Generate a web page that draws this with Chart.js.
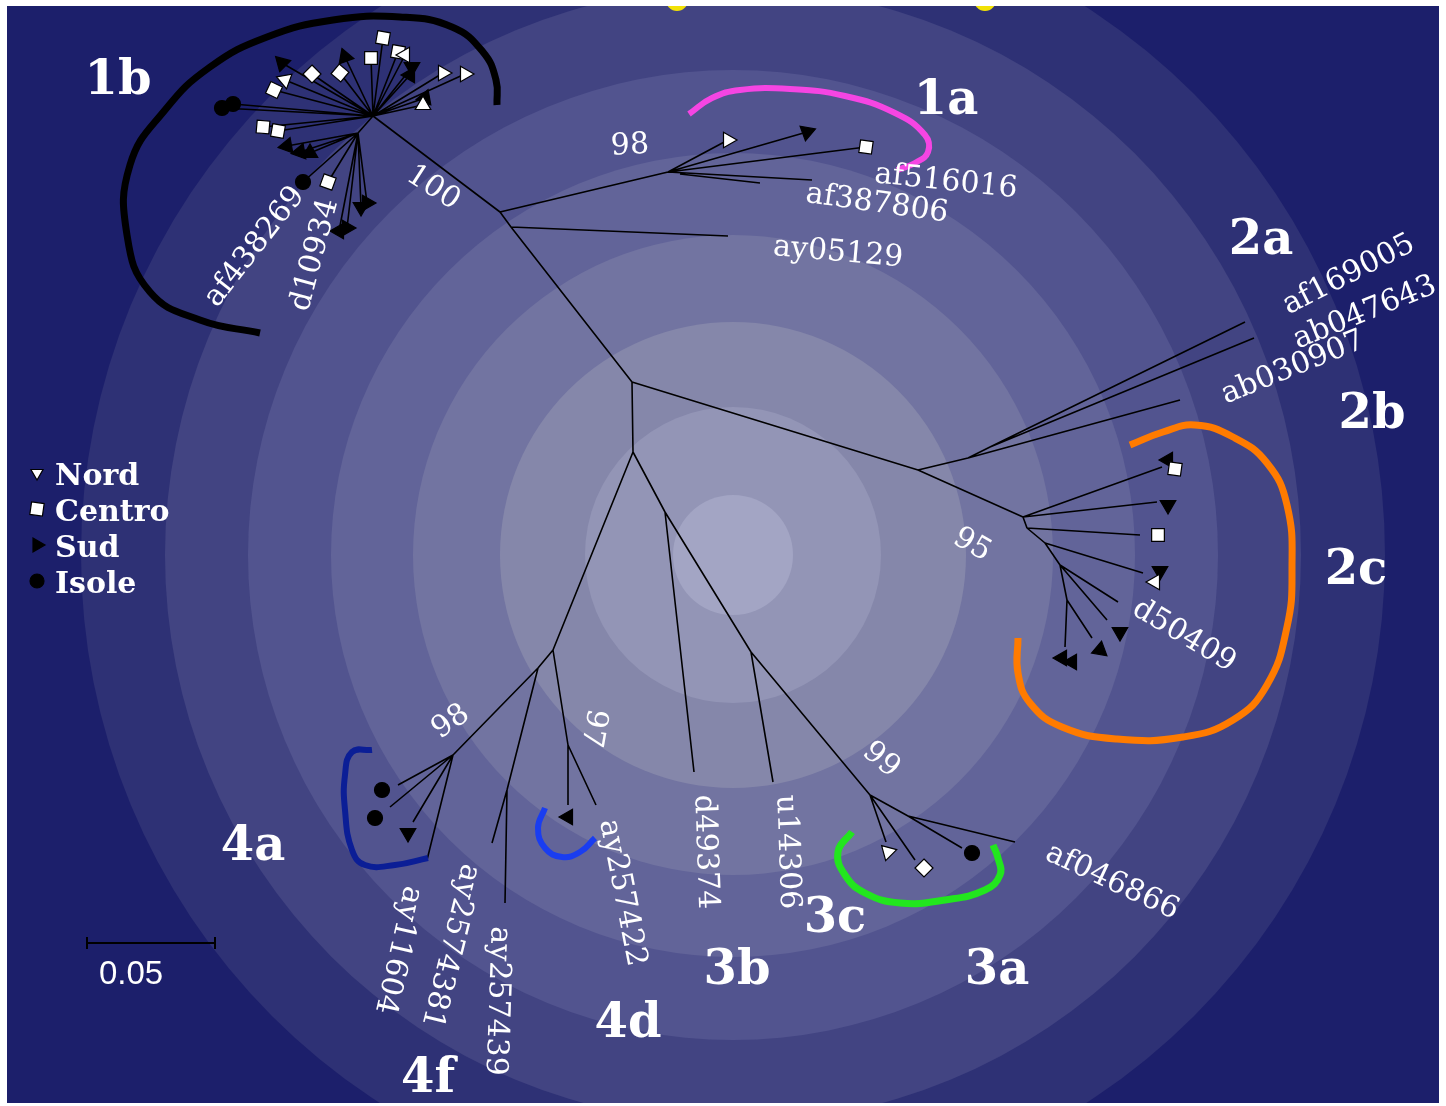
<!DOCTYPE html>
<html>
<head>
<meta charset="utf-8">
<title>HCV genotypes – unrooted tree</title>
<script src="https://cdn.jsdelivr.net/npm/chart.js@4.4.1/dist/chart.umd.min.js"></script>
<style>
  html, body { margin: 0; padding: 0; background: #ffffff; }
  canvas { display: block; }
</style>
</head>
<body>
<canvas id="tree" width="1446" height="1106"></canvas>
<script>
// Unrooted tree layout. Coordinates are layout units (1 unit = 1/2560 substitutions per site),
// origin at the central node, y pointing up.
const UNITS_PER_SUBST = 2560;
const SCALE_BAR_SUBST = 0.05;

// Branch segments: [x1, y1, x2, y2]
const branches = [
  // backbone towards genotype 1
  [0, 0, -121, 155], [-121, 155, -132, 170], [-121, 155, 96, 146],
  [-132, 170, -259, 266], [-132, 170, 36, 210],
  // 1a
  [36, 210, 96, 242], [36, 210, 175, 250], [36, 210, 234, 235], [36, 210, 180, 202], [48, 208, 128, 199],
  // 1b star
  [-259, 266, -274, 249],
  [-259, 266, -249, 344], [-259, 266, -287, 325], [-259, 266, -261, 324], [-259, 266, -234, 330],
  [-259, 266, -227, 327], [-259, 266, -220, 315], [-259, 266, -222, 307], [-259, 266, -320, 308],
  [-259, 266, -292, 309], [-259, 266, -350, 319], [-259, 266, -347, 302], [-259, 266, -358, 292],
  [-259, 266, -189, 309], [-259, 266, -167, 308], [-259, 266, -207, 284], [-259, 266, -209, 277],
  [-259, 266, -410, 274], [-259, 266, -399, 278], [-259, 266, -369, 255], [-259, 266, -354, 251],
  [-274, 249, -345, 236], [-274, 249, -332, 230], [-274, 249, -322, 229], [-274, 249, -329, 200],
  [-274, 249, -304, 200], [-274, 249, -265, 179], [-274, 249, -271, 175], [-274, 249, -285, 154],
  [-274, 249, -293, 151],
  // genotype 2
  [0, 0, 286, -88], [286, -88, 336, -76], [336, -76, 548, -18], [336, -76, 358, -65],
  [358, -65, 613, 60], [358, -65, 622, 44],
  [286, -88, 391, -135], [391, -135, 530, -85], [391, -135, 525, -120], [391, -135, 395, -146],
  [395, -146, 508, -153], [395, -146, 413, -161], [413, -161, 511, -191], [413, -161, 428, -183],
  [428, -183, 486, -220], [428, -183, 475, -238], [428, -183, 435, -218],
  [435, -218, 460, -256], [435, -218, 433, -265],
  // genotype 3
  [0, 0, 1, -70], [1, -70, 33, -130], [33, -130, 62, -390], [33, -130, 119, -270],
  [119, -270, 141, -400], [119, -270, 238, -413],
  [238, -413, 254, -460], [238, -413, 283, -478], [238, -413, 276, -434],
  [276, -434, 330, -466], [276, -434, 383, -460],
  // genotype 4
  [1, -70, -79, -268], [-79, -268, -94, -286], [-79, -268, -64, -363],
  [-64, -363, -64, -423], [-64, -363, -36, -423],
  [-94, -286, -179, -373], [-179, -373, -234, -403], [-179, -373, -242, -425],
  [-179, -373, -219, -440], [-179, -373, -205, -478],
  [-94, -286, -125, -408], [-125, -408, -140, -461], [-125, -408, -127, -521]
];

// Isolates by region of origin: [x, y, marker rotation in degrees]
const nordTips = [
  [96, 242, 90],
  [-227, 327, 150], [-347, 302, -70], [-189, 309, 90], [-167, 308, 90], [-209, 277, 0],
  [523, -200, -90],
  [256, -470, 75]
];
const centroTips = [
  [234, 235, 8],
  [-249, 344, 10], [-261, 324, 0], [-234, 330, 10], [-320, 308, 45], [-292, 309, 40],
  [-358, 292, 25], [-369, 255, 5], [-354, 251, 10], [-304, 200, 20],
  [543, -87, 8], [526, -153, 0],
  [292, -486, 45]
];
const sudTips = [
  [175, 250, 190],
  [-287, 325, -20], [-220, 315, 180], [-222, 307, 150], [-350, 319, -45], [-207, 284, 20],
  [-345, 236, -100], [-332, 230, -100], [-322, 229, 120], [-265, 179, 90], [-271, 175, 180],
  [-285, 154, 90], [-293, 151, 150],
  [536, -78, 30], [536, -123, 180], [528, -189, 180], [488, -250, 60], [468, -268, 10],
  [430, -276, -90], [440, -280, -90],
  [-224, -451, 180],
  [-64, -435, -90]
];
const isoleTips = [
  [-410, 274], [-399, 278], [-329, 200],
  [340, -471],
  [-250, -408], [-257, -436]
];

// Reference sequences: [accession, x, y, rotation]
const tipLabels = [
  ['af516016', 314, 200, 6], ['af387806', 245, 178, 8], ['ay05129', 206, 129, 5],
  ['af169005', 717, 107, -27], ['ab047643', 733, 69, -22], ['ab030907', 661, 14, -22],
  ['d50409', 552, -254, 31], ['af046866', 480, -500, 25],
  ['u14306', 155, -470, 88], ['d49374', 73, -470, 88],
  ['ay257422', -10, -511, 79], ['ay257439', -135, -619, 92],
  ['ay2574381', -182, -564, 104], ['ay11604', -234, -568, 103],
  ['af438269', -377, 135, -52], ['d10934', -317, 127, -75]
];

// Bootstrap support: [value, x, y, rotation]
const bootstrapLabels = [
  ['98', -2, 236, -3], ['100', -199, 194, 33], ['95', 340, -163, 30],
  ['99', 249, -378, 40], ['98', -181, -340, -35], ['97', -39, -346, 100]
];

// Subtype names: [name, x, y]
const subtypeLabels = [
  ['1b', -514, 300], ['1a', 314, 280], ['2a', 629, 140], ['2b', 740, -34], ['2c', 724, -190],
  ['3c', 203, -538], ['3b', 105, -590], ['3a', 365, -590],
  ['4a', -379, -466], ['4d', -4, -643], ['4f', -204, -698]
];

// Subtype brackets: control points of each curve
const bracket1b = [[-372, 49], [-432, 62], [-482, 90], [-505, 147], [-502, 217], [-467, 272], [-422, 315],
  [-365, 345], [-299, 362], [-232, 365], [-180, 355], [-149, 330], [-136, 302], [-135, 277]];
const bracket1a = [[57, 268], [80, 284], [108, 292], [158, 293], [213, 286], [263, 269], [293, 247],
  [296, 230], [283, 219], [265, 212]];
const bracket2c = [[498, -63], [531, -50], [563, -43], [601, -55], [635, -81], [655, -123], [660, -188],
  [655, -245], [635, -303], [601, -338], [551, -355], [485, -357], [430, -345], [398, -321], [386, -291], [386, -256]];
const bracket3c = [[220, -450], [206, -470], [213, -493], [233, -511], [268, -521], [313, -518],
  [353, -508], [368, -493], [366, -476], [361, -463]];
const bracket4a = [[-260, -368], [-280, -370], [-287, -393], [-287, -428], [-280, -468], [-267, -483],
  [-237, -483], [-204, -476]];
const bracket4d = [[-87, -426], [-94, -446], [-87, -466], [-70, -475], [-52, -470], [-37, -456]];

// Backdrop: concentric bands around a centre, radii in layout units (outer to inner)
const ringCentre = [101, -173];
const ringRadii = [652, 568, 485, 402, 320, 233, 148, 60];
const ringColours = ['#2e3175', '#424482', '#52548f', '#626499', '#7274a1', '#8587aa', '#9395b6', '#a3a5c4'];
const outerColour = '#1c1f6b';
const sunSpots = [[45, 382], [353, 382]];

const legendItems = [
  { text: 'Nord', style: 'triangle', rot: 180, fill: '#ffffff', r: 7 },
  { text: 'Centro', style: 'rect', rot: 8, fill: '#ffffff', r: 9 },
  { text: 'Sud', style: 'triangle', rot: 90, fill: '#000000', r: 8 },
  { text: 'Isole', style: 'circle', rot: 0, fill: '#000000', r: 7 }
];

// ---------- datasets ----------
const branchData = [];
branches.forEach(([x1, y1, x2, y2]) => {
  branchData.push({ x: x1, y: y1 }, { x: x2, y: y2 }, { x: x2, y: null });
});
const toPts = arr => arr.map(p => ({ x: p[0], y: p[1], r: p[2] || 0 }));

function bracketSet(points, colour, width) {
  return {
    data: toPts(points), showLine: true, borderColor: colour, borderWidth: width,
    tension: 0.45, pointRadius: 0, borderCapStyle: 'butt', borderJoinStyle: 'round',
    fill: false, order: 1
  };
}
function markerSet(label, points, style, fill, radius) {
  return {
    label, data: toPts(points), showLine: false, pointStyle: style,
    pointRadius: radius, pointHoverRadius: radius,
    pointBackgroundColor: fill, pointBorderColor: '#000000', pointBorderWidth: 1.2,
    pointRotation: c => (c.raw ? c.raw.r : 0), order: 0
  };
}

const backdrop = {
  id: 'backdrop',
  beforeDraw(chart) {
    const { ctx } = chart;
    const sx = chart.scales.x, sy = chart.scales.y;
    const k = sx.getPixelForValue(1) - sx.getPixelForValue(0);
    ctx.save();
    ctx.fillStyle = '#ffffff';
    ctx.fillRect(0, 0, chart.width, chart.height);
    ctx.beginPath();
    ctx.rect(7, 6, 1432, 1097);
    ctx.clip();
    ctx.fillStyle = outerColour;
    ctx.fillRect(7, 6, 1432, 1097);
    const cx = sx.getPixelForValue(ringCentre[0]), cy = sy.getPixelForValue(ringCentre[1]);
    ringRadii.forEach((r, i) => {
      ctx.beginPath();
      ctx.arc(cx, cy, r * k, 0, Math.PI * 2);
      ctx.fillStyle = ringColours[i];
      ctx.fill();
    });
    ctx.fillStyle = '#f2e205';
    sunSpots.forEach(([x, y]) => {
      ctx.beginPath();
      ctx.arc(sx.getPixelForValue(x), sy.getPixelForValue(y), 11 * k, 0, Math.PI * 2);
      ctx.fill();
    });
    ctx.restore();
  }
};

function drawText(ctx, text, x, y, rot, font) {
  ctx.save();
  ctx.translate(x, y);
  ctx.rotate(rot * Math.PI / 180);
  ctx.font = font;
  ctx.textAlign = 'center';
  ctx.textBaseline = 'middle';
  ctx.fillText(text, 0, 0);
  ctx.restore();
}

const annotations = {
  id: 'annotations',
  afterDatasetsDraw(chart) {
    const { ctx } = chart;
    const sx = chart.scales.x, sy = chart.scales.y;
    ctx.save();
    ctx.fillStyle = '#ffffff';
    tipLabels.forEach(([t, x, y, r]) =>
      drawText(ctx, t, sx.getPixelForValue(x), sy.getPixelForValue(y), r, '30px "DejaVu Serif"'));
    bootstrapLabels.forEach(([t, x, y, r]) =>
      drawText(ctx, t, sx.getPixelForValue(x), sy.getPixelForValue(y), r, '30px "DejaVu Serif"'));
    subtypeLabels.forEach(([t, x, y]) =>
      drawText(ctx, t, sx.getPixelForValue(x), sy.getPixelForValue(y), 0, 'bold 48px "DejaVu Serif"'));

    // legend
    const lx = 37, ly0 = 473, step = 36;
    legendItems.forEach((it, i) => {
      const y = ly0 + i * step;
      ctx.fillStyle = it.fill;
      ctx.strokeStyle = '#000000';
      ctx.lineWidth = 1.2;
      Chart.helpers.drawPoint(ctx, { pointStyle: it.style, radius: it.r, rotation: it.rot, borderWidth: 1.2 }, lx, y);
      ctx.fillStyle = '#ffffff';
      ctx.font = 'bold 30px "DejaVu Serif"';
      ctx.textAlign = 'left';
      ctx.textBaseline = 'alphabetic';
      ctx.fillText(it.text, 55, y + 12);
    });

    // scale bar
    const len = sx.getPixelForValue(SCALE_BAR_SUBST * UNITS_PER_SUBST) - sx.getPixelForValue(0);
    const bx = 87, by = 943;
    ctx.strokeStyle = '#000000';
    ctx.lineWidth = 2;
    ctx.beginPath();
    ctx.moveTo(bx, by); ctx.lineTo(bx + len, by);
    ctx.moveTo(bx, by - 6); ctx.lineTo(bx, by + 6);
    ctx.moveTo(bx + len, by - 6); ctx.lineTo(bx + len, by + 6);
    ctx.stroke();
    ctx.fillStyle = '#ffffff';
    drawText(ctx, String(SCALE_BAR_SUBST), bx + 44, by + 32, 0, '33px "Liberation Sans"');
    ctx.restore();
  }
};

new Chart(document.getElementById('tree'), {
  type: 'scatter',
  data: {
    datasets: [
      markerSet('Nord', nordTips, 'triangle', '#ffffff', 9),
      markerSet('Centro', centroTips, 'rect', '#ffffff', 9),
      markerSet('Sud', sudTips, 'triangle', '#000000', 9),
      markerSet('Isole', isoleTips, 'circle', '#000000', 7.5),
      bracketSet(bracket1b, '#000000', 7),
      bracketSet(bracket1a, '#f545e3', 6),
      bracketSet(bracket2c, '#ff7b00', 7),
      bracketSet(bracket3c, '#22e61e', 7),
      bracketSet(bracket4a, '#0b1e96', 6),
      bracketSet(bracket4d, '#1a3df0', 6),
      {
        data: branchData, showLine: true, borderColor: '#000000', borderWidth: 1.6,
        pointRadius: 0, spanGaps: false, tension: 0, order: 2
      }
    ]
  },
  options: {
    responsive: false,
    devicePixelRatio: 1,
    animation: false,
    events: [],
    layout: { padding: 0, autoPadding: false },
    plugins: { legend: { display: false }, tooltip: { enabled: false } },
    scales: {
      x: { type: 'linear', min: -632, max: 814, display: false },
      y: { type: 'linear', min: -724, max: 382, display: false }
    }
  },
  plugins: [backdrop, annotations]
});
</script>
</body>
</html>
